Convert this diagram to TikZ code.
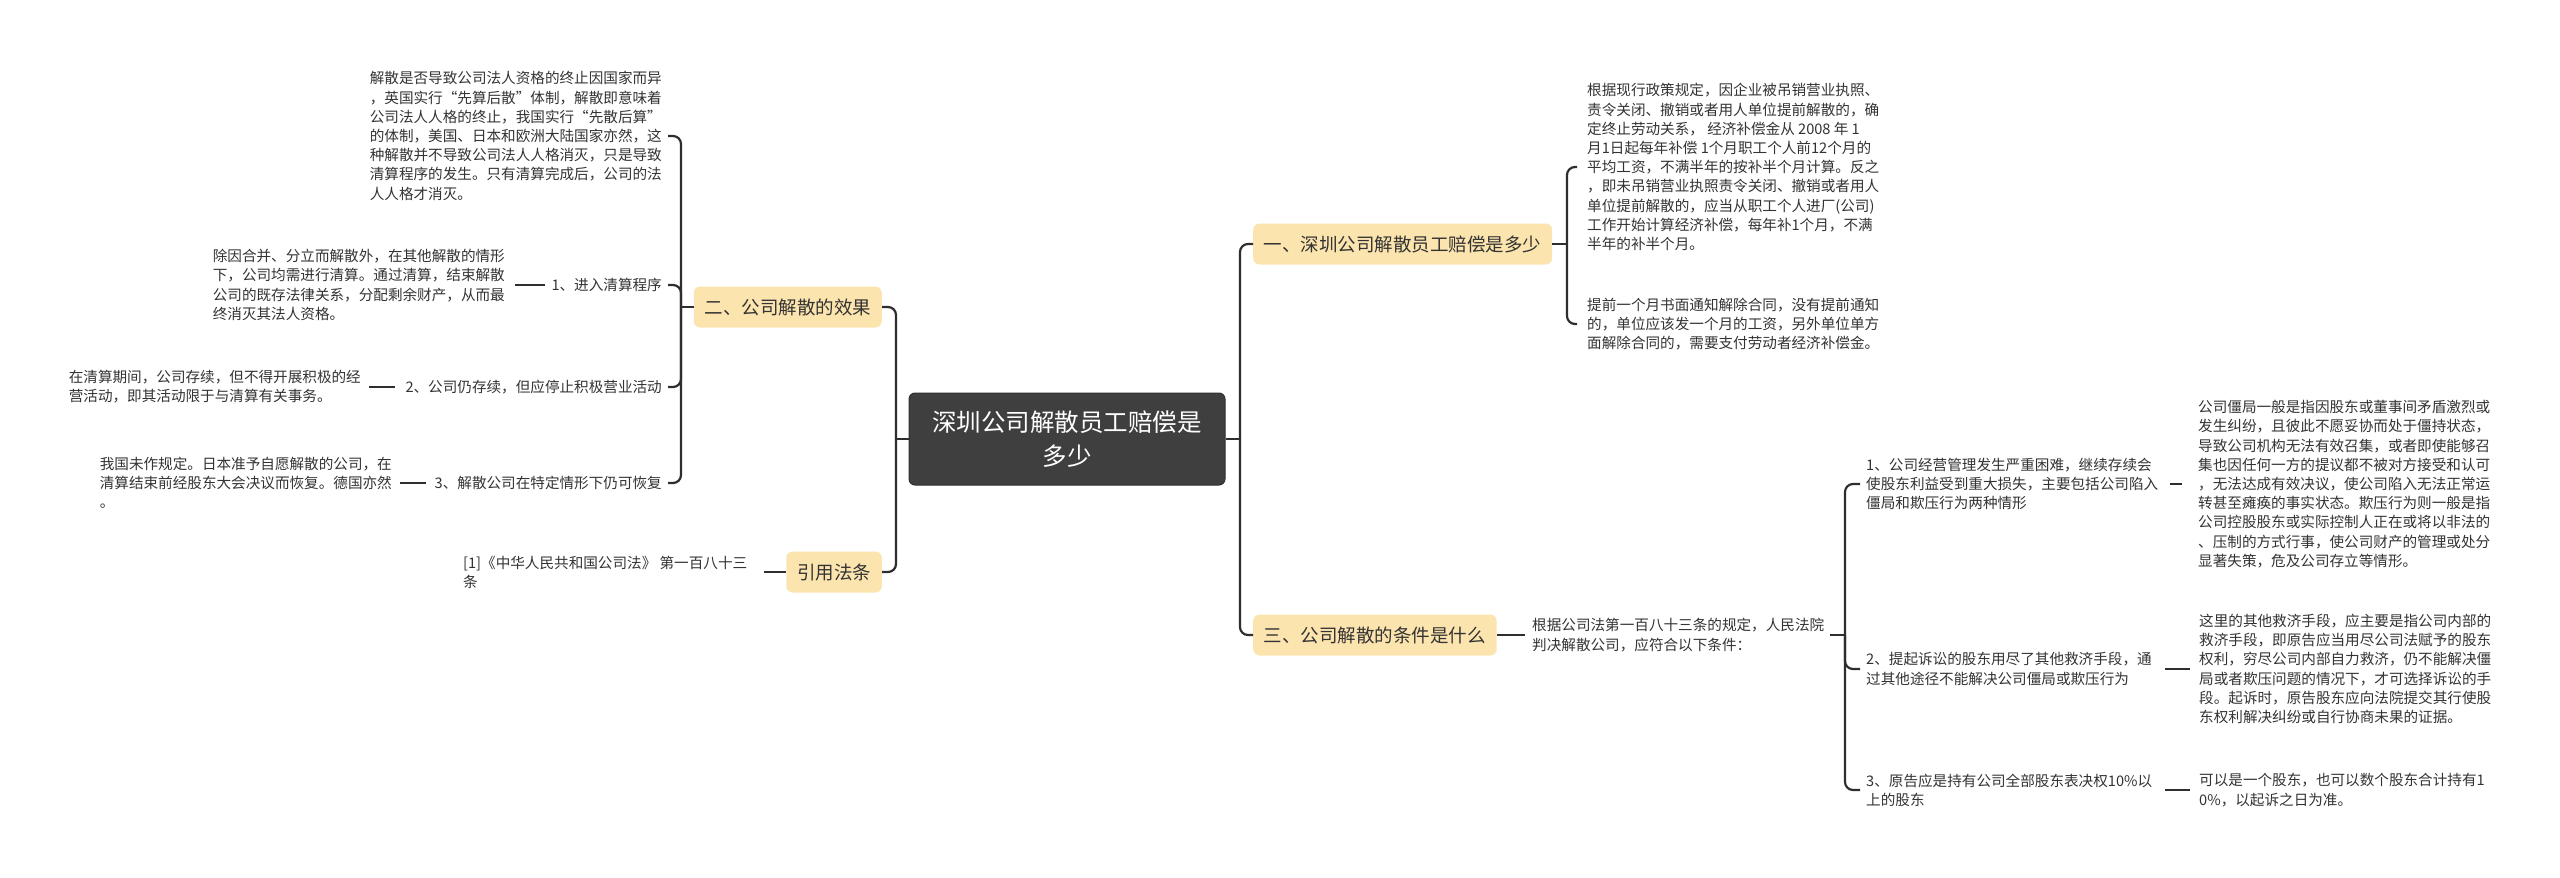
\documentclass[tikz,border=0pt]{standalone}
\usepackage{fontspec}
\setmainfont{Noto Sans CJK SC}
\definecolor{linec}{HTML}{2E2E2E}
\definecolor{brfill}{HTML}{FCE4AE}
\definecolor{rootfill}{HTML}{3F3F3F}
\definecolor{rootdraw}{HTML}{303030}
\definecolor{txtc}{HTML}{333333}
\begin{document}
\begin{tikzpicture}[x=1pt,y=-1pt,
  txt/.style={font=\fontsize{14.6}{19.2}\selectfont, align=left, inner sep=0pt, text=txtc},
  brbox/.style={fill=brfill, rounded corners=6.5pt, font=\fontsize{18.5}{22}\selectfont, inner xsep=10.75pt, inner ysep=0pt, minimum height=41pt, text=txtc},
  rootbox/.style={fill=rootfill, draw=rootdraw, line width=1pt, rounded corners=6pt, font=\fontsize{24.5}{34}\selectfont, align=center, text=white, minimum width=316pt, minimum height=92pt},
  ln/.style={draw=linec, line width=2.2pt},
  hook/.style={ln, rounded corners=8pt},
]
\fill[white] (0,0) rectangle (2560,878);
\useasboundingbox (0,0) rectangle (2560,878);

% root and branches
\node[rootbox] (root) at (1067,439) {深圳公司解散员工赔偿是\\多少};
\node[brbox, anchor=east] (b2) at (882,307) {二、公司解散的效果};
\node[brbox, anchor=east] (b4) at (882,572) {引用法条};
\node[brbox, anchor=west] (b1) at (1253,244) {一、深圳公司解散员工赔偿是多少};
\node[brbox, anchor=west] (b3) at (1253,635) {三、公司解散的条件是什么};

% left side
\node[txt, anchor=east] (l0) at (662,136) {解散是否导致公司法人资格的终止因国家而异\\，英国实行“先算后散”体制，解散即意味着\\公司法人人格的终止，我国实行“先散后算”\\的体制，美国、日本和欧洲大陆国家亦然，这\\种解散并不导致公司法人人格消灭，只是导致\\清算程序的发生。只有清算完成后，公司的法\\人人格才消灭。};
\node[txt, anchor=east] (l1) at (662,285) {1、进入清算程序};
\node[txt, anchor=east] (p1) at (505,285) {除因合并、分立而解散外，在其他解散的情形\\下，公司均需进行清算。通过清算，结束解散\\公司的既存法律关系，分配剩余财产，从而最\\终消灭其法人资格。};
\node[txt, anchor=east] (l2) at (662,387) {2、公司仍存续，但应停止积极营业活动};
\node[txt, anchor=east] (p2) at (361,387) {在清算期间，公司存续，但不得开展积极的经\\营活动，即其活动限于与清算有关事务。};
\node[txt, anchor=east] (l3) at (662,483) {3、解散公司在特定情形下仍可恢复};
\node[txt, anchor=east] (p3) at (392,483) {我国未作规定。日本准予自愿解散的公司，在\\清算结束前经股东大会决议而恢复。德国亦然\\。};
\node[txt, anchor=west] (ref) at (463,572) {[1]《中华人民共和国公司法》 第一百八十三\\条};

% right side
\node[txt, anchor=west] (r1) at (1587,167) {根据现行政策规定，因企业被吊销营业执照、\\责令关闭、撤销或者用人单位提前解散的，确\\定终止劳动关系， 经济补偿金从 2008 年 1\\月1日起每年补偿 1个月职工个人前12个月的\\平均工资，不满半年的按补半个月计算。反之\\，即未吊销营业执照责令关闭、撤销或者用人\\单位提前解散的，应当从职工个人进厂(公司)\\工作开始计算经济补偿，每年补1个月，不满\\半年的补半个月。};
\node[txt, anchor=west] (r2) at (1587,324) {提前一个月书面通知解除合同，没有提前通知\\的，单位应该发一个月的工资，另外单位单方\\面解除合同的，需要支付劳动者经济补偿金。};
\node[txt, anchor=west] (r3) at (1532,635) {根据公司法第一百八十三条的规定，人民法院\\判决解散公司，应符合以下条件：};
\node[txt, anchor=west] (c1) at (1866,484) {1、公司经营管理发生严重困难，继续存续会\\使股东利益受到重大损失，主要包括公司陷入\\僵局和欺压行为两种情形};
\node[txt, anchor=west] (c1p) at (2198,484) {公司僵局一般是指因股东或董事间矛盾激烈或\\发生纠纷，且彼此不愿妥协而处于僵持状态，\\导致公司机构无法有效召集，或者即使能够召\\集也因任何一方的提议都不被对方接受和认可\\，无法达成有效决议，使公司陷入无法正常运\\转甚至瘫痪的事实状态。欺压行为则一般是指\\公司控股股东或实际控制人正在或将以非法的\\、压制的方式行事，使公司财产的管理或处分\\显著失策，危及公司存立等情形。};
\node[txt, anchor=west] (c2) at (1866,669) {2、提起诉讼的股东用尽了其他救济手段，通\\过其他途径不能解决公司僵局或欺压行为};
\node[txt, anchor=west] (c2p) at (2199,669) {这里的其他救济手段，应主要是指公司内部的\\救济手段，即原告应当用尽公司法赋予的股东\\权利，穷尽公司内部自力救济，仍不能解决僵\\局或者欺压问题的情况下，才可选择诉讼的手\\段。起诉时，原告股东应向法院提交其行使股\\东权利解决纠纷或自行协商未果的证据。};
\node[txt, anchor=west] (c3) at (1866,790) {3、原告应是持有公司全部股东表决权10\%以\\上的股东};
\node[txt, anchor=west] (c3p) at (2199,790) {可以是一个股东，也可以数个股东合计持有1\\0\%，以起诉之日为准。};

% junctions
\coordinate (jL) at (896,439);
\coordinate (jR) at (1240,439);
\coordinate (j2) at (681,307);
\coordinate (j1) at (1567,244);
\coordinate (j3) at (1845,635);

% trunk connectors
\draw[ln] (root.west) -- (jL);
\draw[hook] (jL) |- (b2.east);
\draw[hook] (jL) |- (b4.east);
\draw[ln] (root.east) -- (jR);
\draw[hook] (jR) |- (b1.west);
\draw[hook] (jR) |- (b3.west);

% left branch 二
\draw[ln] (b2.west) -- (j2);
\draw[hook, shorten >=6pt] (j2) |- (l0.east);
\draw[hook, shorten >=6pt] (j2) |- (l1.east);
\draw[hook, shorten >=6pt] (j2) |- (l2.east);
\draw[hook, shorten >=6pt] (j2) |- (l3.east);
\draw[ln, shorten <=10pt, shorten >=6pt] (p1.east) -- (l1.west);
\draw[ln, shorten <=8pt, shorten >=10pt] (p2.east) -- (l2.west);
\draw[ln, shorten <=8pt, shorten >=9pt] (p3.east) -- (l3.west);
\draw[ln, shorten <=17pt] (ref.east) -- (b4.west);

% right branch 一
\draw[ln] (b1.east) -- (j1);
\draw[hook, shorten >=10pt] (j1) |- (r1.west);
\draw[hook, shorten >=10pt] (j1) |- (r2.west);

% right branch 三
\draw[ln, shorten >=7pt] (b3.east) -- (r3.west);
\draw[ln, shorten <=6pt] (r3.east) -- (j3);
\draw[hook, shorten >=6pt] (j3) |- (c1.west);
\draw[hook, shorten >=6pt] (j3) |- (c2.west);
\draw[hook, shorten >=6pt] (j3) |- (c3.west);
\draw[ln, shorten <=12pt, shorten >=16pt] (c1.east) -- (c1p.west);
\draw[ln, shorten <=13pt, shorten >=9pt] (c2.east) -- (c2p.west);
\draw[ln, shorten <=13pt, shorten >=9pt] (c3.east) -- (c3p.west);
\end{tikzpicture}
\end{document}
